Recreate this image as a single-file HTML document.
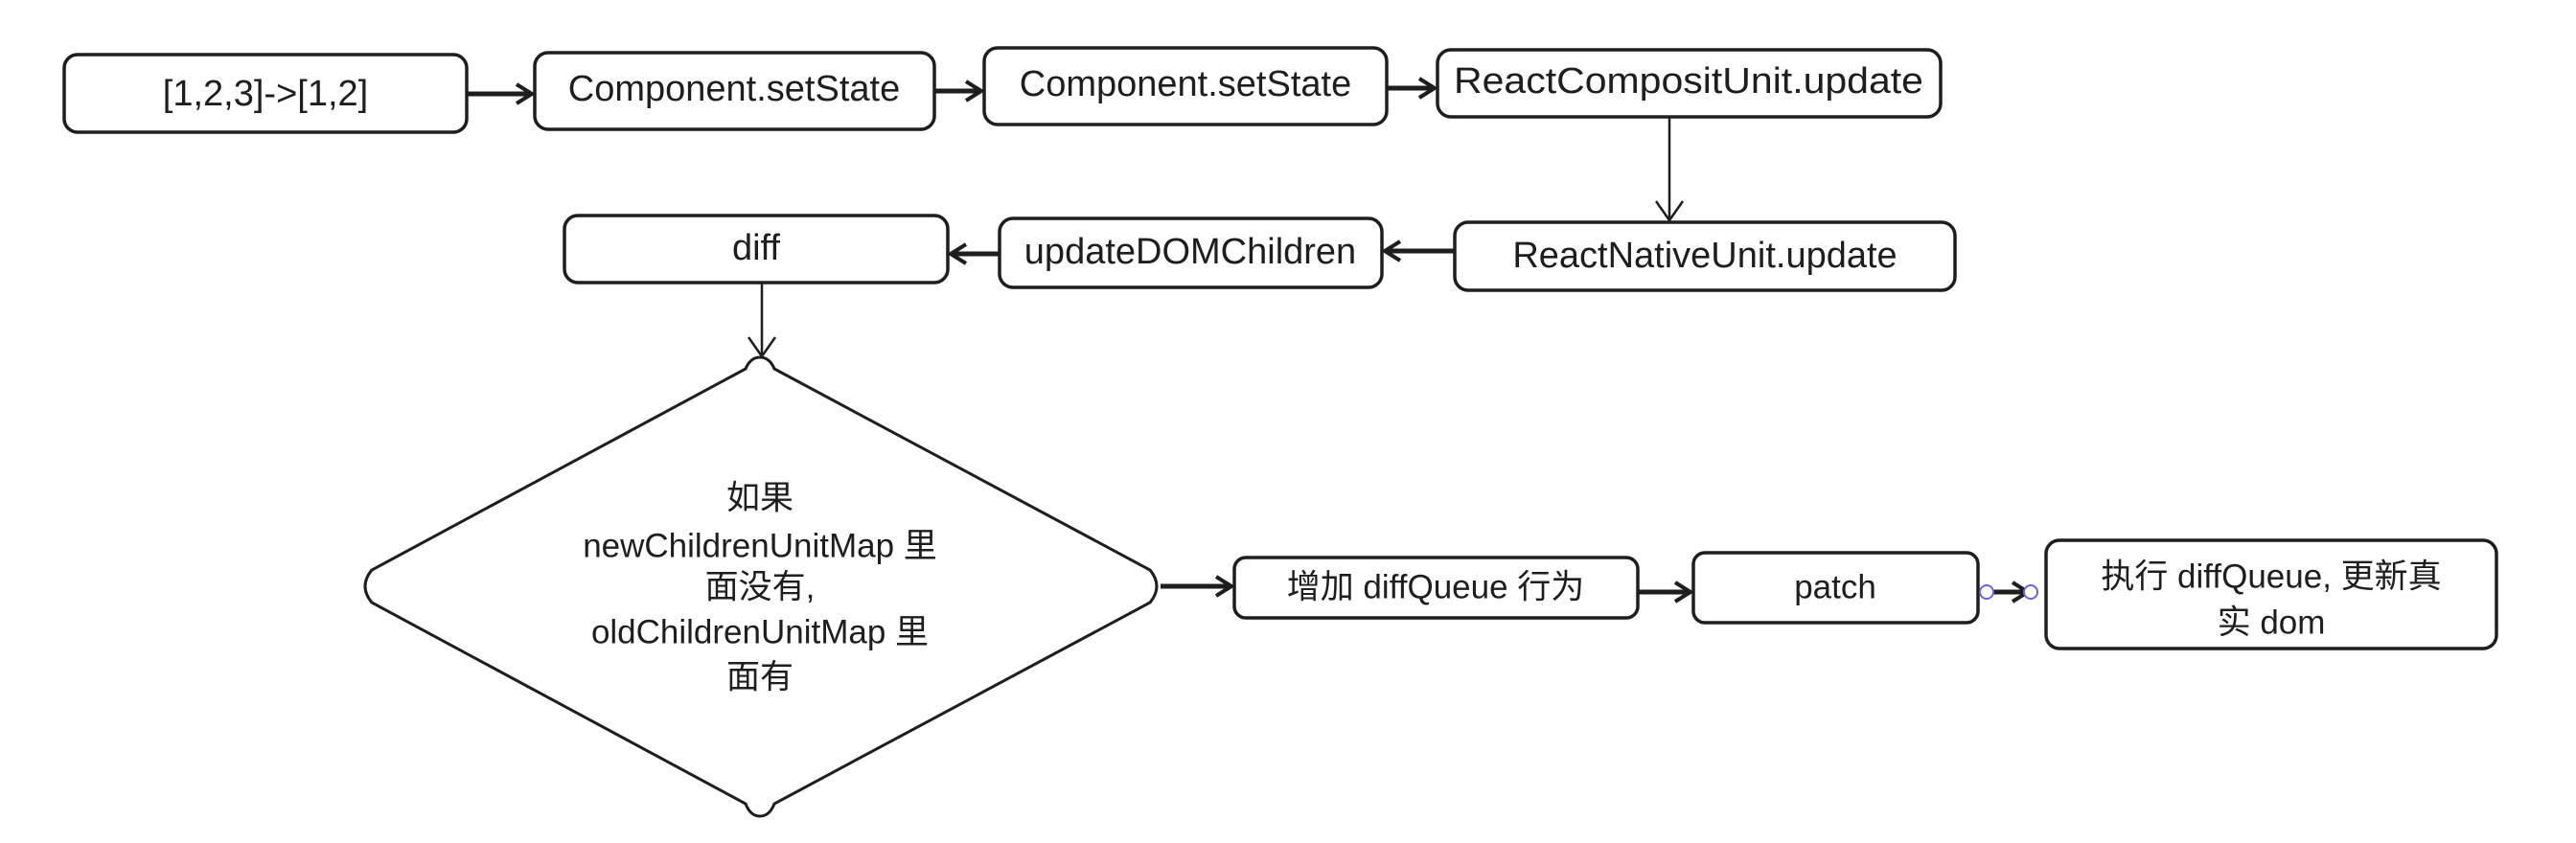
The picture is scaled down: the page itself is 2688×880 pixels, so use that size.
<!DOCTYPE html>
<html><head><meta charset="utf-8"><style>
html,body{margin:0;padding:0;background:#fff;}
svg{display:block}
text{font-family:"Liberation Sans","Noto Sans CJK SC",sans-serif;fill:#1e1e1e;text-anchor:middle;dominant-baseline:central;}
</style></head><body>
<svg width="2688" height="880" viewBox="0 0 2688 880" xmlns="http://www.w3.org/2000/svg">
<defs>
<marker id="ah" markerWidth="20" markerHeight="24" refX="18" refY="12" orient="auto" markerUnits="userSpaceOnUse">
<path d="M2,2 L18,12 L2,22" fill="none" stroke="#1e1e1e" stroke-width="4"/>
</marker>
<marker id="ahl" markerWidth="24" markerHeight="30" refX="22" refY="15" orient="auto" markerUnits="userSpaceOnUse">
<path d="M2,1 L22,15 L2,29" fill="none" stroke="#1e1e1e" stroke-width="2.5"/>
</marker>
</defs>
<g fill="none" stroke="#1e1e1e" stroke-width="3.5">
<rect x="67" y="57" width="420" height="81" rx="14"/>
<rect x="558" y="55" width="417" height="80" rx="14"/>
<rect x="1027" y="50" width="420" height="80" rx="14"/>
<rect x="1500" y="52" width="525" height="70" rx="14"/>
<rect x="1518" y="232" width="522" height="71" rx="14"/>
<rect x="1043" y="228" width="399" height="72" rx="14"/>
<rect x="589" y="225" width="400" height="70" rx="14"/>
<path d="M793,373 Q803,373 808,385 L1200,595 Q1214,612 1200,629 L808,839 Q803,852 793,852 Q783,852 778,839 L388,629 Q374,612 388,595 L778,385 Q783,373 793,373 Z" stroke-width="3"/>
<rect x="1288" y="582" width="421" height="63" rx="12"/>
<rect x="1767" y="577" width="297" height="73" rx="12"/>
<rect x="2135" y="564" width="470" height="113" rx="14"/>
</g>
<g fill="none" stroke="#1e1e1e" stroke-width="5">
<line x1="487" y1="98" x2="555" y2="98" marker-end="url(#ah)"/>
<line x1="975" y1="95" x2="1024" y2="95" marker-end="url(#ah)"/>
<line x1="1447" y1="92" x2="1497" y2="92" marker-end="url(#ah)"/>
<line x1="1518" y1="262" x2="1445" y2="262" marker-end="url(#ah)"/>
<line x1="1043" y1="265" x2="992" y2="265" marker-end="url(#ah)"/>
<line x1="1211" y1="612" x2="1285" y2="612" marker-end="url(#ah)"/>
<line x1="1709" y1="618" x2="1764" y2="618" marker-end="url(#ah)"/>
<line x1="2078" y1="618" x2="2116" y2="618" marker-end="url(#ah)"/>
</g>
<g fill="none" stroke="#1e1e1e" stroke-width="2.5">
<line x1="1742" y1="122" x2="1742" y2="230" marker-end="url(#ahl)"/>
<line x1="795" y1="295" x2="795" y2="372" marker-end="url(#ahl)"/>
</g>
<circle cx="2073" cy="618" r="7" fill="#fff" stroke="#6965db" stroke-width="2"/>
<circle cx="2119" cy="618" r="7" fill="#fff" stroke="#6965db" stroke-width="2"/>
<g font-size="38">
<text x="277" y="98">[1,2,3]-&gt;[1,2]</text>
<text x="766" y="93">Component.setState</text>
<text x="1237" y="88">Component.setState</text>
<text x="1762" y="85" textLength="490" lengthAdjust="spacingAndGlyphs">ReactCompositUnit.update</text>
<text x="1779" y="267">ReactNativeUnit.update</text>
<text x="1242" y="263">updateDOMChildren</text>
<text x="789" y="259">diff</text>
</g>
<g font-size="35">
<text x="793" y="520">如果</text>
<text x="793" y="570">newChildrenUnitMap 里</text>
<text x="793" y="613">面没有,</text>
<text x="793" y="660">oldChildrenUnitMap 里</text>
<text x="793" y="707">面有</text>
<text x="1498" y="613">增加 diffQueue 行为</text>
<text x="1915" y="613">patch</text>
<text x="2370" y="602">执行 diffQueue, 更新真</text>
<text x="2370" y="650">实 dom</text>
</g>
</svg>
</body></html>
